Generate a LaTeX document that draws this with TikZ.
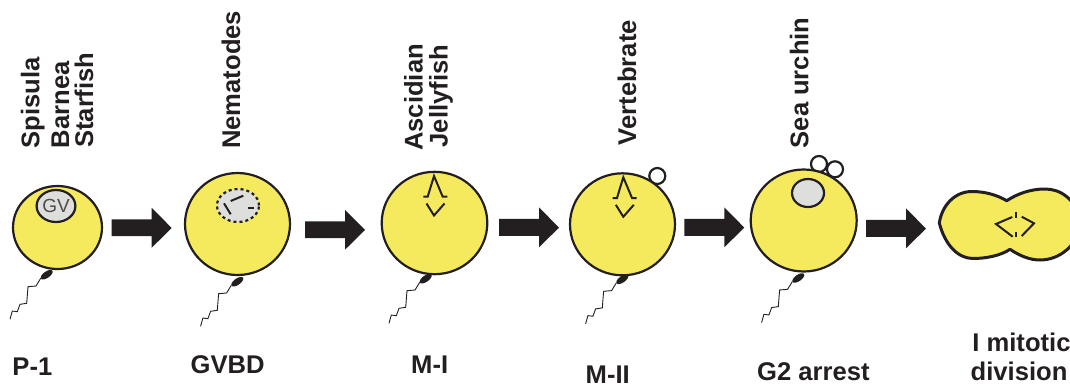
\documentclass[tikz,border=0pt]{standalone}
\usepackage{fontspec}
\usetikzlibrary{shapes.geometric}
\setmainfont{Liberation Sans}
\definecolor{yolk}{HTML}{F5EA5E}
\definecolor{ink}{HTML}{231F20}
\definecolor{nucleus}{HTML}{DEDEDC}
\tikzset{
  cell/.style={draw=ink,fill=yolk,line width=2.2pt},
  gv/.style={draw=ink,fill=nucleus,line width=2.2pt,ellipse,inner sep=0pt},
  polar/.style={draw=ink,fill=white,line width=2.2pt,circle,minimum size=16pt,inner sep=0pt},
  spindle/.style={draw=ink,line width=2pt,line join=miter},
  tail/.style={draw=ink,line width=0.9pt},
  stagelabel/.style={font=\bfseries\fontsize{25.6}{28}\selectfont,text=ink,inner sep=0pt,anchor=base west},
  vlabel/.style={stagelabel,rotate=90},
}
% block arrow whose shaft starts at (#1,#2)
\newcommand{\blockarrow}[2]{%
  \fill[ink] (#1,#2-8.7) -- ++(40,0) -- ++(0,-11.5) -- ++(20,20.2) -- ++(-20,19.7)
    -- ++(0,-11.5) -- ++(-40,0) -- cycle;}
% sperm with its head centred at (#1,#2)
\newcommand{\sperm}[2]{%
  \begin{scope}[shift={(#1,#2)}]
    \fill[ink,rotate=35] (0,0) ellipse (7 and 3.2);
    \draw[tail] (-6,3.6) -- (-10.7,11.3) -- (-18.7,12) -- (-20,28.6) -- (-26.7,29.6)
      -- (-29.4,37) -- (-34.4,36.3) -- (-36.7,44.6);
  \end{scope}}
% meiotic spindle with its apex at (#1,#2)
\newcommand{\spindle}[2]{%
  \begin{scope}[shift={(#1,#2)}]
    \draw[spindle] (-10.7,20.7) -- (-6.3,20.7) -- (0,0) -- (8.7,20.7) -- (13.3,20.7);
    \draw[spindle] (-7.5,27.5) -- (0,39.5) -- (10.5,27.5);
  \end{scope}}
\begin{document}
\begin{tikzpicture}[x=1pt,y=-1pt]
\useasboundingbox (0,0) rectangle (1070,386);

% stage P-1
\draw[cell] (57.5,227.5) ellipse (44.5 and 41.5);
\node[gv,minimum width=38pt,minimum height=32pt,font=\fontsize{19}{20}\selectfont,text=ink!80] (gv) at (56,206) {GV};
\sperm{46.7}{274.7}

% stage GVBD
\draw[cell] (237.5,224) ellipse (52.5 and 51);
\node[gv,dashed,minimum width=42pt,minimum height=33pt] (gvbd) at (238,205.5) {};
\draw[spindle] (230.7,201) -- (243.3,195.7);
\draw[spindle] (224,203.3) -- (230.7,214.3);
\draw[spindle] (248.3,208.3) -- (254,208.3);
\sperm{237.3}{281.7}

% stage M-I
\draw[cell] (434.5,223) ellipse (52.8 and 51.2);
\spindle{434}{176}
\sperm{425.7}{278.7}

% stage M-II
\node[polar] (pb) at (657.3,176) {};
\draw[cell] (622.5,224.3) ellipse (52.5 and 51);
\spindle{623.3}{177.3}
\sperm{622.3}{279.3}

% stage G2 arrest
\node[polar] (pba) at (819,164) {};
\node[polar] (pbb) at (835,169.3) {};
\draw[cell] (803.7,220.5) ellipse (53 and 51);
\node[gv,minimum width=32pt,minimum height=28pt] (late) at (808,193) {};
\sperm{798.3}{278}

% first mitotic division
\draw[cell,line width=3pt,line join=round] (939.3,223)
  .. controls (942,205) and (955,191.5) .. (972,191.5)
  .. controls (985,191.5) and (997,195) .. (1006.7,200.7)
  .. controls (1017,194) and (1030,189) .. (1045,189)
  .. controls (1060,189) and (1075,198) .. (1082,222)
  .. controls (1078,245) and (1060,260) .. (1040,260)
  .. controls (1030,260) and (1020,256) .. (1010,249.3)
  .. controls (1000,256) and (985,258.5) .. (973,258.5)
  .. controls (958,258.5) and (945,245) .. cycle;
\draw[spindle] (1012.3,217) -- (996,224) -- (1012.7,236.7);
\draw[spindle] (1021.7,216.7) -- (1034,223.3) -- (1021.7,236);
\draw[spindle] (1016,212.3) -- (1016,217.7);
\draw[spindle] (1016.3,231.7) -- (1016.3,237.3);

% arrows between stages
\blockarrow{111.7}{228}
\blockarrow{305}{230}
\blockarrow{499}{227.6}
\blockarrow{684.3}{227.6}
\blockarrow{866}{228.6}

% organism names
\node[vlabel] (a1) at (39.3,148.5) {Spisula};
\node[vlabel] (a2) at (69,148.5) {Barnea};
\node[vlabel] (a3) at (93,148) {Starfish};
\node[vlabel] (b) at (240,149) {Nematodes};
\node[vlabel] (c1) at (422.7,151) {Ascidian};
\node[vlabel] (c2) at (447.5,147.5) {Jellyfish};
\node[vlabel] (d) at (636,145.5) {Vertebrate};
\node[vlabel] (e) at (808.3,148.5) {Sea urchin};

% stage names
\node[stagelabel] (s1) at (12.3,375) {P-1};
\node[stagelabel] (s2) at (190.5,373.3) {GVBD};
\node[stagelabel] (s3) at (411,373.3) {M-I};
\node[stagelabel] (s4) at (585.5,383) {M-II};
\node[stagelabel] (s5) at (757,380.7) {G2 arrest};
\node[stagelabel] (s6) at (972.2,351.7) {I mitotic};
\node[stagelabel] (s7) at (970.5,380.7) {division};
\end{tikzpicture}
\end{document}
